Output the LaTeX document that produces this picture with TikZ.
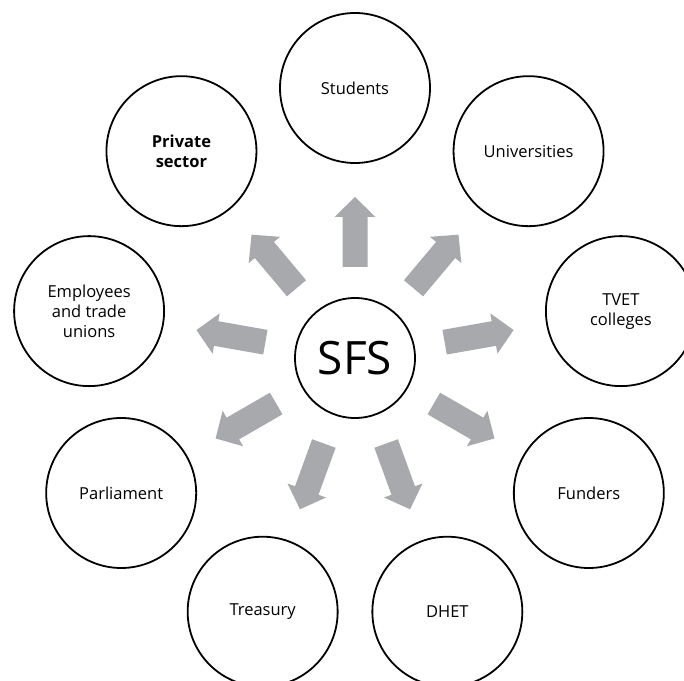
\documentclass[tikz,border=0pt]{standalone}
\usepackage{fontspec}
\setmainfont{Open Sans}
\usetikzlibrary{calc}
\definecolor{arrowgray}{RGB}{167,169,172}
\begin{document}
\begin{tikzpicture}[x=1pt,y=1pt,
  ring/.style={circle, draw=black, line width=1.8pt, minimum size=150pt, inner sep=0pt,
    align=center, font=\fontsize{16.5}{20}\selectfont},
  hub/.style={circle, draw=black, line width=1.8pt, minimum size=120pt, inner sep=0pt,
    font=\fontsize{46}{46}\selectfont},
  blockarrow/.style={fill=arrowgray}]
\useasboundingbox (0,0) rectangle (684,680);
\clip (0,0) rectangle (684,680);

% central node
\node[hub] (sfs) at (355,322) {SFS};

% surrounding stakeholders, 40 degrees apart on a ring of radius 270
\node[ring] (stu) at ($(sfs.center)+(90:270)$)  {Students};
\node[ring] (uni) at ($(sfs.center)+(50:270)$)  {Universities};
\node[ring] (tvet) at ($(sfs.center)+(10:270)$) {TVET\\colleges};
\node[ring] (fun) at ($(sfs.center)+(-30:270)$) {Funders};
\node[ring] (dhet) at ($(sfs.center)+(-70:270)$) {DHET};
\node[ring] (tre) at ($(sfs.center)+(-110:270)$) {Treasury};
\node[ring] (par) at ($(sfs.center)+(-150:270)$) {Parliament};
\node[ring] (emp) at ($(sfs.center)+(170:270)$) {Employees\\and trade\\unions};
\node[ring, font=\fontsize{16.5}{20}\selectfont\bfseries] (pri) at ($(sfs.center)+(130:270)$) {Private\\sector};

% block arrows pointing outwards from the hub
\foreach \a in {90,50,10,-30,-70,-110,-150,170,130}{
  \fill[blockarrow, shift={(sfs.center)}, rotate=\a]
    (91,-12.5) -- (141,-12.5) -- (141,-20.5) -- (161,0) -- (141,20.5) -- (141,12.5) -- (91,12.5) -- cycle;
}
\end{tikzpicture}
\end{document}
